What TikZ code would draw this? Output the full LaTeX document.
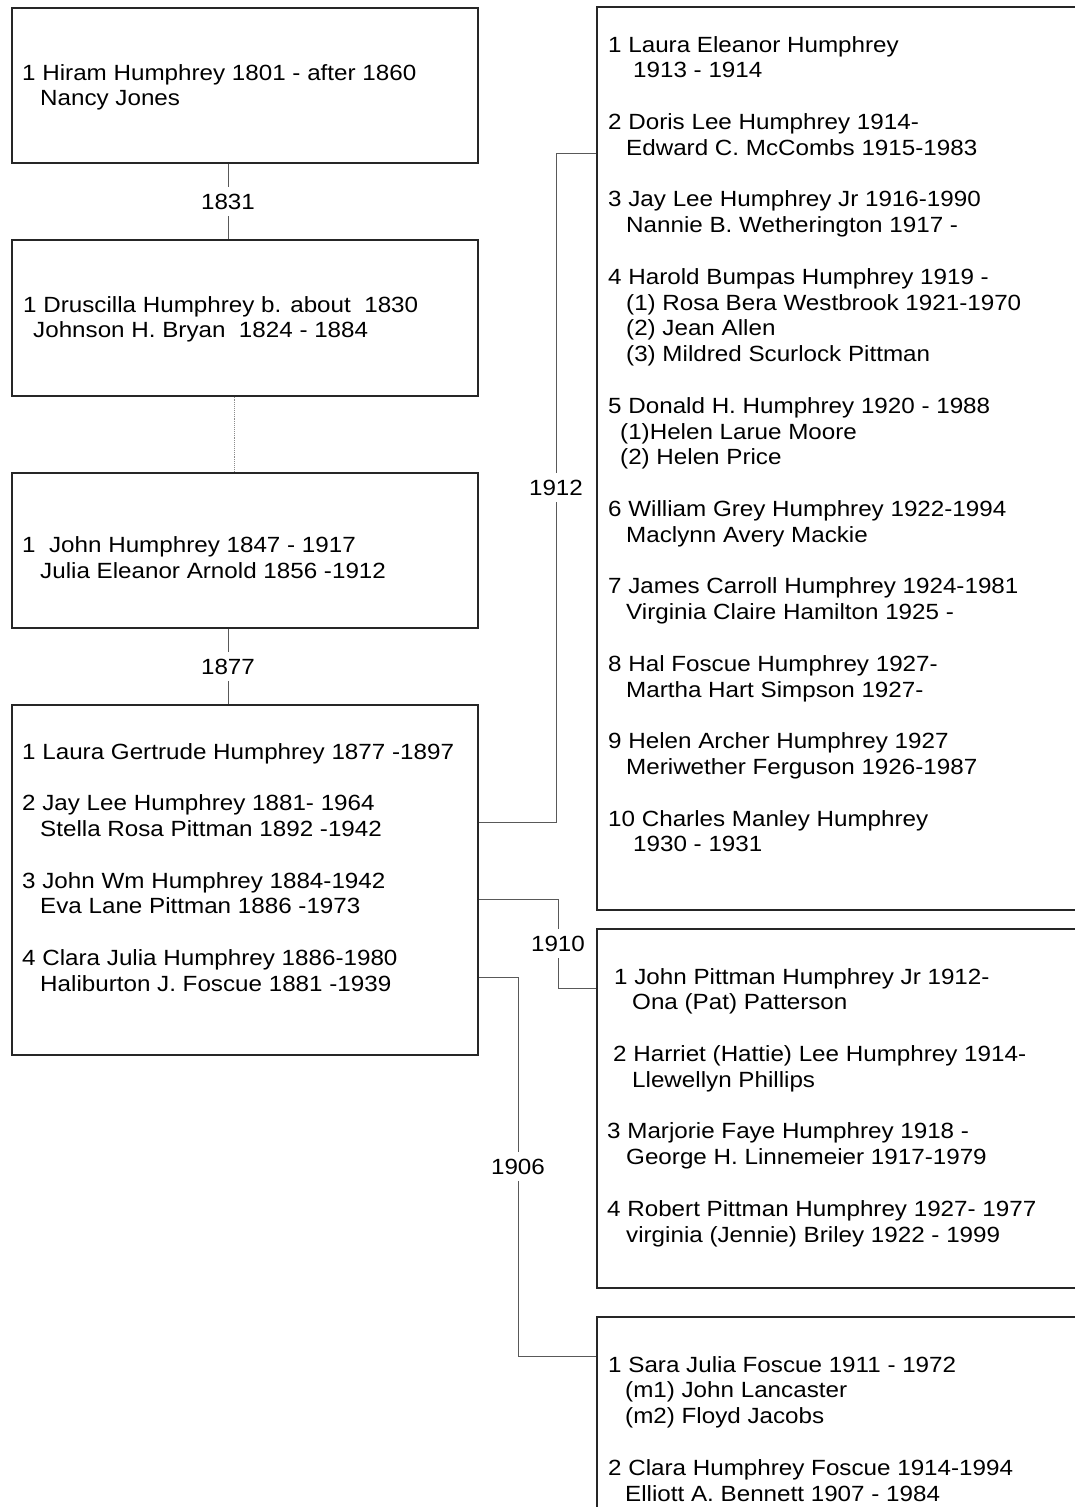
\documentclass[tikz,border=0pt]{standalone}
\usepackage{fontspec}
\setmainfont{Liberation Sans}[FakeStretch=1.1]
\tikzset{
  box/.style={draw=black!85, line width=1.3pt, rectangle, inner sep=0pt},
  txt/.style={anchor=base west, inner sep=0pt, font=\fontsize{22}{26}\selectfont, text=black},
  conn/.style={draw=black!65, line width=0.9pt},
  dotconn/.style={draw=black!45, line width=0.9pt, densely dotted},
  lbl/.style={fill=white, inner xsep=2pt, inner ysep=7pt, font=\fontsize{22}{26}\selectfont, text=black}
}
\newcommand\tline[4]{\node[txt] (#1) at (#2,{#3}) {#4};}
\begin{document}
\begin{tikzpicture}[x=1pt,y=-1pt]
\clip (0,0) rectangle (1075,1507);
\fill[white] (0,0) rectangle (1075,1507);
% boxes
\node[box, minimum width=466pt, minimum height=155pt] (A) at (245,85.5) {};
\node[box, minimum width=466pt, minimum height=156pt] (B) at (245,318) {};
\node[box, minimum width=466pt, minimum height=155pt] (C) at (245,550.5) {};
\node[box, minimum width=466pt, minimum height=350pt] (D) at (245,880) {};
\node[box, minimum width=493pt, minimum height=903pt] (E) at (843.5,458.5) {};
\node[box, minimum width=493pt, minimum height=359pt] (F) at (843.5,1108.5) {};
\node[box, minimum width=493pt, minimum height=213pt] (G) at (843.5,1423.5) {};
% box A
\tline{A1}{22}{73+7}{1 Hiram Humphrey 1801 - after 1860}
\tline{A2}{40}{98+7}{Nancy Jones}
% box B
\tline{B1}{23}{305+7}{1 Druscilla Humphrey b. about\ \ 1830}
\tline{B2}{33}{330+7}{Johnson H. Bryan\ \ 1824 - 1884}
% box C
\tline{C1}{22}{545+7}{1\ \ John Humphrey 1847 - 1917}
\tline{C2}{40}{571+7}{Julia Eleanor Arnold 1856 -1912}
% box D
\tline{D1}{22}{759+0*25.8}{1 Laura Gertrude Humphrey 1877 -1897}
\tline{D2}{22}{759+2*25.8}{2 Jay Lee Humphrey 1881- 1964}
\tline{D3}{40}{759+3*25.8}{Stella Rosa Pittman 1892 -1942}
\tline{D4}{22}{759+5*25.8}{3 John Wm Humphrey 1884-1942}
\tline{D5}{40}{759+6*25.8}{Eva Lane Pittman 1886 -1973}
\tline{D6}{22}{759+8*25.8}{4 Clara Julia Humphrey 1886-1980}
\tline{D7}{40}{759+9*25.8}{Haliburton J. Foscue 1881 -1939}
% box E
\tline{E1}{608}{52+0*25.8}{1 Laura Eleanor Humphrey}
\tline{E2}{633}{52+1*25.8}{1913 - 1914}
\tline{E3}{608}{52+3*25.8}{2 Doris Lee Humphrey 1914-}
\tline{E4}{626}{52+4*25.8}{Edward C. McCombs 1915-1983}
\tline{E5}{608}{52+6*25.8}{3 Jay Lee Humphrey Jr 1916-1990}
\tline{E6}{626}{52+7*25.8}{Nannie B. Wetherington 1917 -}
\tline{E7}{608}{52+9*25.8}{4 Harold Bumpas Humphrey 1919 -}
\tline{E8}{626}{52+10*25.8}{(1) Rosa Bera Westbrook 1921-1970}
\tline{E9}{626}{52+11*25.8}{(2) Jean Allen}
\tline{E10}{626}{52+12*25.8}{(3) Mildred Scurlock Pittman}
\tline{E11}{608}{52+14*25.8}{5 Donald H. Humphrey 1920 - 1988}
\tline{E12}{620}{52+15*25.8}{(1)Helen Larue Moore}
\tline{E13}{620}{52+16*25.8}{(2) Helen Price}
\tline{E14}{608}{52+18*25.8}{6 William Grey Humphrey 1922-1994}
\tline{E15}{626}{52+19*25.8}{Maclynn Avery Mackie}
\tline{E16}{608}{52+21*25.8}{7 James Carroll Humphrey 1924-1981}
\tline{E17}{626}{52+22*25.8}{Virginia Claire Hamilton 1925 -}
\tline{E18}{608}{52+24*25.8}{8 Hal Foscue Humphrey 1927-}
\tline{E19}{626}{52+25*25.8}{Martha Hart Simpson 1927-}
\tline{E20}{608}{52+27*25.8}{9 Helen Archer Humphrey 1927}
\tline{E21}{626}{52+28*25.8}{Meriwether Ferguson 1926-1987}
\tline{E22}{608}{52+30*25.8}{10 Charles Manley Humphrey}
\tline{E23}{633}{52+31*25.8}{1930 - 1931}
% box F
\tline{F1}{614}{984+0*25.8}{1 John Pittman Humphrey Jr 1912-}
\tline{F2}{632}{984+1*25.8}{Ona (Pat) Patterson}
\tline{F3}{613}{984+3*25.8}{2 Harriet (Hattie) Lee Humphrey 1914-}
\tline{F4}{632}{984+4*25.8}{Llewellyn Phillips}
\tline{F5}{607}{984+6*25.8}{3 Marjorie Faye Humphrey 1918 -}
\tline{F6}{626}{984+7*25.8}{George H. Linnemeier 1917-1979}
\tline{F7}{607}{984+9*25.8}{4 Robert Pittman Humphrey 1927- 1977}
\tline{F8}{626}{984+10*25.8}{virginia (Jennie) Briley 1922 - 1999}
% box G
\tline{G1}{608}{1372+0*25.8}{1 Sara Julia Foscue 1911 - 1972}
\tline{G2}{625}{1372+1*25.8}{(m1) John Lancaster}
\tline{G3}{625}{1372+2*25.8}{(m2) Floyd Jacobs}
\tline{G4}{608}{1372+4*25.8}{2 Clara Humphrey Foscue 1914-1994}
\tline{G5}{625}{1372+5*25.8}{Elliott A. Bennett 1907 - 1984}
% connector coordinates
\coordinate (vab) at (228,0);
\coordinate (vbc) at (234,0);
\coordinate (j12) at (556,822);
\coordinate (k12) at (556,153);
\coordinate (j10) at (558,899);
\coordinate (k10) at (558,988);
\coordinate (j06) at (518,977);
\coordinate (k06) at (518,1356);
% connectors
\draw[conn] (A.south -| vab) -- node[lbl] {1831} (B.north -| vab);
\draw[dotconn] (B.south -| vbc) -- (C.north -| vbc);
\draw[conn] (C.south -| vab) -- node[lbl] {1877} (D.north -| vab);
\draw[conn] (D.east |- j12) -- (j12) -- node[lbl] {1912} (k12) -- (E.west |- k12);
\draw[conn] (D.east |- j10) -- (j10) -- node[lbl] {1910} (k10) -- (F.west |- k10);
\draw[conn] (D.east |- j06) -- (j06) -- node[lbl] {1906} (k06) -- (G.west |- k06);
\end{tikzpicture}
\end{document}
